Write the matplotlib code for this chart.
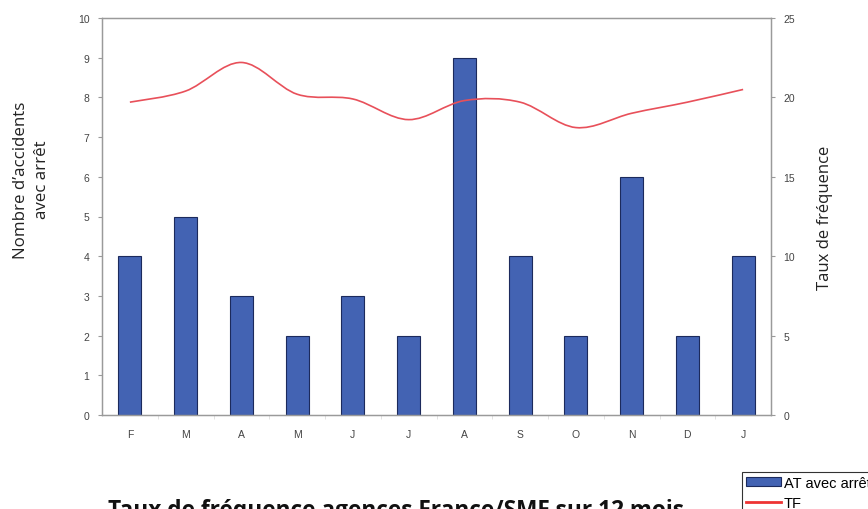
import numpy as np
import matplotlib
matplotlib.use("Agg")
import matplotlib.pyplot as plt
from matplotlib.path import Path
from matplotlib.patches import PathPatch
from matplotlib.lines import Line2D

months = ["F", "M", "A", "M", "J", "J", "A", "S", "O", "N", "D", "J"]
at_avec_arret = [4, 5, 3, 2, 3, 2, 9, 4, 2, 6, 2, 4]
tf = [19.7, 20.4, 22.2, 20.2, 19.9, 18.6, 19.8, 19.7, 18.1, 19.0, 19.7, 20.5]

bar_color = "#4363b3"
edge_color = "#1c2a5c"
line_color = "#e8505a"
grey = "#9a9a9a"
tick_col = "#444444"

fig = plt.figure(figsize=(8.68, 5.10), dpi=100)
ax = fig.add_axes([102 / 868, 94 / 510, 669 / 868, 397 / 510])
ax2 = ax.twinx()

x = np.arange(len(months))
bars = ax.bar(x, at_avec_arret, width=0.41, color=bar_color, edgecolor=edge_color, linewidth=0.8, zorder=2)

# smoothed line (Excel-like): bezier segments through the data points
pts = np.column_stack([x, tf]).astype(float)
ext = np.vstack([pts[0], pts, pts[-1]])
verts = [tuple(pts[0])]
codes = [Path.MOVETO]
for i in range(len(pts) - 1):
    p0, p1, p2, p3 = ext[i], ext[i + 1], ext[i + 2], ext[i + 3]
    c1 = p1 + (p2 - p0) / 6
    c2 = p2 - (p3 - p1) / 6
    verts += [tuple(c1), tuple(c2), tuple(p2)]
    codes += [Path.CURVE4] * 3
ax2.add_patch(PathPatch(Path(verts, codes), facecolor="none", edgecolor=line_color, linewidth=1.2, zorder=3))

ax.set_xlim(-0.5, len(months) - 0.5)
ax.set_ylim(0, 10)
ax2.set_ylim(0, 25)
ax.set_yticks(range(0, 11))
ax2.set_yticks(range(0, 26, 5))
ax.set_xticks(x)
ax.set_xticklabels(months)
ax.set_xticks(np.arange(0.5, len(months) - 0.5), minor=True)

for a in (ax, ax2):
    for s in a.spines.values():
        s.set_color(grey)
        s.set_linewidth(0.9)
ax.tick_params(axis="y", direction="out", length=3, color=grey, labelsize=7.5, labelcolor=tick_col, pad=6)
ax2.tick_params(axis="y", direction="out", length=3, color=grey, labelsize=7.5, labelcolor=tick_col, pad=6)
ax.tick_params(axis="x", which="major", length=0, labelsize=7.5, labelcolor=tick_col, pad=10)
ax.tick_params(axis="x", which="minor", direction="out", length=3, color="#dddddd")
for lab in ax.get_xticklabels() + ax.get_yticklabels() + ax2.get_yticklabels():
    lab.set_family("Liberation Sans")

fig.text(0.036, 0.647, "Nombre d\u2019accidents\navec arr\u00eat", rotation=90, ha="center", va="center",
         fontsize=12.2, family="Open Sans", color="#222222", linespacing=1.45)
fig.text(0.950, 0.573, "Taux de fr\u00e9quence", rotation=90, ha="center", va="center",
         fontsize=12, family="Open Sans", color="#222222")

fig.text(0.456, -7 / 510, "Taux de fr\u00e9quence agences France/SMF sur 12 mois", ha="center", va="baseline",
         fontsize=16.3, fontweight="bold", family="Open Sans", color="#111111")

handles = [bars.patches[0], Line2D([0], [0], color="#ee3333", linewidth=2)]
leg = fig.legend(handles, ["AT avec arr\u00eat", "TF"], loc="upper left", bbox_to_anchor=(742 / 868, 1 - 473 / 510),
                 frameon=True, fancybox=False, edgecolor="black", prop={"family": "Liberation Sans", "size": 10.5},
                 handlelength=2.4, handleheight=0.6, borderpad=0.25, labelspacing=0.45, handletextpad=0.2, borderaxespad=0)
leg.get_frame().set_linewidth(0.8)

fig.savefig("out.png", dpi=100)
